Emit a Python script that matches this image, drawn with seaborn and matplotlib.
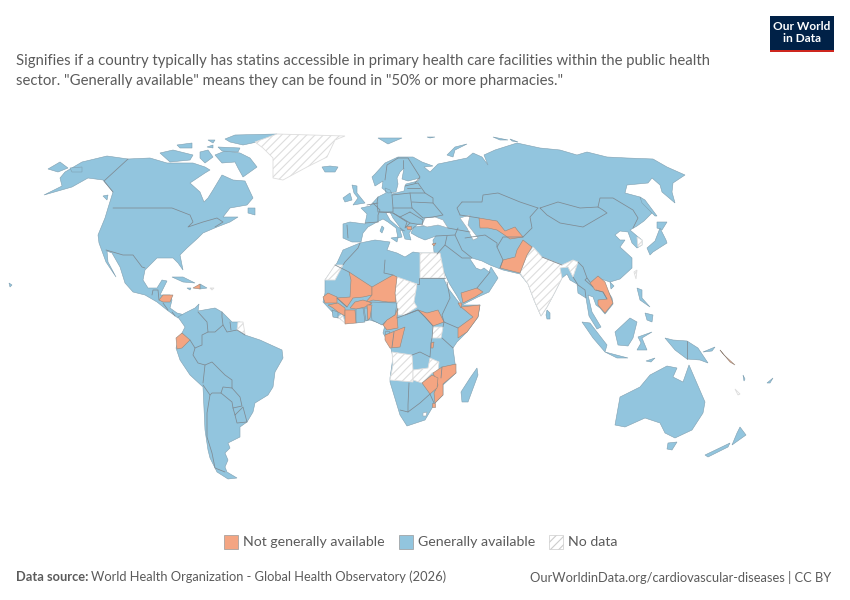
import pandas as pd
import matplotlib
matplotlib.use("Agg")
import matplotlib.pyplot as plt
from matplotlib.patches import Rectangle
import seaborn as sns

# ---- map outlines (x, y on the 850x600 sheet) ----
americas_north = [(44,195),(62,186),(60,178),(65,172),(82,162),(107,156),(128,159),(150,158),(167,163),(193,163),(205,167),(210,170),(205,173),(190,183),(200,192),(204,202),(208,198),(213,190),(222,175),(233,180),(245,181),(253,198),(247,205),(230,208),(223,217),(238,217),(230,222),(217,227),(203,233),(198,238),(187,248),(180,255),(183,270),(178,263),(173,258),(157,258),(145,270),(143,280),(148,288),(157,288),(162,280),(167,281),(160,295),(170,295),(172,300),(170,308),(177,313),(185,315),(178,318),(167,310),(157,302),(145,295),(133,292),(125,283),(120,267),(112,253),(107,251),(108,262),(116,277),(106,262),(99,243),(98,235),(105,218),(108,208),(113,192),(103,180),(88,178),(72,187)]
south_america = [(178,317),(185,313),(195,308),(199,304),(198,311),(215,308),(222,312),(232,322),(240,322),(245,335),(260,340),(282,350),(283,358),(275,372),(273,387),(268,395),(255,403),(253,412),(247,422),(240,427),(240,437),(228,443),(230,448),(225,453),(228,460),(225,467),(227,472),(237,478),(228,479),(217,472),(210,458),(208,450),(205,430),(203,387),(190,375),(180,360),(176,348),(180,337),(185,327)]
ellesmere = [(225,139),(235,135),(277,134),(257,142),(243,145),(230,142)]
baffin = [(215,155),(225,151),(240,153),(250,158),(257,167),(243,177),(238,168),(235,162),(222,163)]
victoria = [(160,153),(173,150),(193,155),(190,160),(170,162)]
banks = [(177,145),(192,143),(192,148),(180,148)]
devon = [(207,147),(213,145),(213,148)]
bathurst = [(218,147),(240,148),(238,152),(222,151)]
somerset = [(200,152),(208,150),(213,157),(205,163),(200,158)]
axel = [(208,140),(215,140),(213,143)]
newfoundland = [(248,208),(255,208),(255,215),(248,213)]
chukotka_tip = [(48,169),(60,162),(68,168),(58,172)]
kodiak = [(70,168),(82,167),(82,172),(72,172)]
vancouver = [(103,196),(108,195),(107,200)]
cuba = [(172,277),(183,277),(195,283),(183,282)]
dominican = [(200,284),(207,288),(200,289)]
jamaica = [(187,288),(191,288),(190,290)]
hawaii = [(9,283),(12,285),(10,287)]
eurasia = [(343,238),(343,224),(350,222),(365,224),(367,214),(361,208),(370,206),(378,197),(386,193),(385,188),(390,190),(392,194),(404,191),(405,186),(406,184),(418,181),(420,178),(408,181),(402,179),(404,168),(400,172),(397,178),(398,184),(396,192),(388,193),(382,188),(383,181),(375,186),(372,177),(375,174),(385,163),(398,157),(413,157),(422,162),(433,166),(424,167),(430,172),(438,164),(443,163),(467,158),(473,153),(482,157),(488,165),(484,155),(495,150),(517,143),(540,148),(560,150),(577,155),(587,152),(607,157),(627,158),(653,159),(667,167),(685,175),(673,183),(672,192),(675,203),(662,192),(660,185),(652,178),(648,183),(627,185),(625,193),(640,197),(652,213),(644,221),(637,226),(630,230),(637,236),(642,240),(642,245),(637,248),(632,243),(628,232),(620,231),(615,235),(620,240),(625,240),(620,247),(632,258),(632,268),(620,279),(610,282),(598,278),(604,285),(612,298),(613,304),(605,314),(600,308),(596,305),(593,297),(588,295),(592,312),(601,327),(597,329),(589,316),(586,298),(578,293),(577,284),(570,280),(567,274),(562,278),(555,292),(547,307),(541,316),(534,300),(528,284),(520,274),(503,270),(490,265),(482,261),(472,258),(470,259),(476,268),(481,270),(484,268),(489,272),(491,267),(498,278),(489,292),(478,297),(462,305),(457,296),(449,283),(441,265),(437,254),(434,252),(433,240),(436,236),(425,240),(418,237),(411,233),(414,227),(424,226),(425,224),(418,224),(412,229),(409,233),(411,240),(405,239),(402,230),(393,218),(390,212),(386,213),(390,220),(398,227),(405,231),(400,230),(402,237),(398,238),(396,228),(388,222),(383,219),(377,222),(368,227),(363,233),(361,242),(352,242)]
africa = [(360,243),(375,240),(390,242),(387,250),(397,253),(405,257),(413,252),(420,253),(440,253),(438,260),(443,277),(448,288),(457,300),(461,305),(480,305),(478,317),(467,332),(457,342),(453,348),(455,363),(456,373),(443,385),(443,395),(435,403),(425,420),(407,426),(400,415),(390,382),(390,378),(393,357),(390,345),(383,333),(385,325),(370,320),(347,323),(337,317),(323,302),(325,293),(325,280),(337,263),(343,250)]
madagascar = [(477,368),(478,375),(468,402),(462,402),(461,392),(470,378)]
britain = [(352,185),(357,186),(357,193),(365,203),(353,205),(358,198),(354,193)]
ireland = [(343,198),(350,193),(352,200),(345,202)]
iceland = [(322,167),(330,166),(338,167),(335,172),(325,172)]
svalbard = [(378,138),(402,138),(388,144)]
novaya_zemlya = [(447,155),(455,147),(467,144),(455,150),(453,157)]
severnaya = [(493,137),(508,140),(500,140)]
new_siberian = [(510,139),(518,142),(512,141)]
franz_josef = [(427,137),(435,137),(430,138)]
sardinia = [(382,226),(384,228),(382,233),(380,231)]
sicily = [(391,238),(398,237),(397,242)]
sri_lanka = [(547,310),(550,313),(550,319),(547,319),(546,315)]
hokkaido = [(657,222),(667,222),(662,230),(657,228)]
honshu = [(647,248),(655,241),(660,228),(666,240),(667,243),(653,252),(650,255)]
sakhalin = [(640,197),(645,200),(657,216),(655,216),(642,203)]
sumatra = [(582,322),(590,323),(607,345),(605,352),(593,338)]
java = [(605,352),(628,358),(617,358)]
borneo = [(615,332),(630,318),(637,322),(633,338),(628,346),(618,345)]
sulawesi = [(638,337),(652,332),(642,338),(647,350),(637,350),(641,343)]
new_guinea = [(665,338),(673,340),(687,341),(698,348),(708,363),(700,360),(687,359),(675,350)]
new_britain = [(703,352),(715,347),(712,351)]
luzon = [(637,288),(642,290),(642,298),(650,307),(640,300)]
mindanao = [(645,313),(653,315),(652,322),(647,320)]
timor = [(646,361),(655,358),(651,362)]
hainan = [(610,282),(614,286),(611,289)]
australia = [(615,425),(620,397),(640,387),(650,375),(667,366),(677,368),(673,377),(683,382),(689,365),(705,402),(703,413),(692,430),(675,438),(665,433),(660,423),(645,418),(625,427)]
tasmania = [(668,443),(677,442),(672,450),(667,449)]
nz_north = [(740,427),(746,435),(732,445),(737,433)]
nz_south = [(730,443),(728,447),(708,457),(705,455)]
vanuatu = [(743,375),(745,379),(744,381)]
fiji = [(767,383),(773,378),(770,383)]

nigeria = [(370,302),(397,303),(395,315),(385,322),(382,325),(372,320)]
ghana = [(356,308),(363,308),(365,322),(356,323)]
togo = [(364,308),(368,308),(368,320),(366,321)]
sierra_leone = [(332,310),(338,312),(338,318),(333,317)]
gambia = [(325,300),(337,299),(336,302),(326,302)]
eq_guinea = [(385,331),(389,331),(389,334),(385,334)]

senegal = [(323,297),(328,293),(337,297),(337,303),(325,303)]
mali = [(349,272),(372,287),(372,295),(363,297),(353,298),(347,307),(337,298),(350,297),(351,280)]
niger = [(372,287),(393,275),(397,277),(395,293),(396,302),(388,302),(373,300),(365,303),(372,295)]
burkina = [(350,308),(355,302),(363,300),(372,303),(365,307),(356,309)]
guinea = [(328,305),(338,303),(345,308),(345,316),(338,312),(333,308)]
ivory_coast = [(345,310),(355,310),(356,323),(345,324)]
benin = [(367,305),(372,305),(370,318),(368,320)]
cameroon = [(398,308),(397,317),(398,328),(387,330),(383,325),(387,320),(395,315)]
congo_gabon = [(385,335),(405,327),(403,335),(400,347),(390,348),(385,340)]
south_sudan = [(418,310),(427,313),(438,310),(444,322),(433,326),(425,317)]
rwanda = [(431,343),(434,342),(433,348),(431,348)]
yemen = [(461,293),(477,288),(483,292),(475,297),(463,303)]
djibouti = [(458,303),(462,303),(461,308)]
somalia = [(458,338),(458,328),(473,317),(461,307),(480,305),(478,317),(467,332)]
mozambique = [(442,367),(456,364),(456,373),(443,384),(443,395),(435,403),(434,393),(438,385),(433,373)]
zimbabwe = [(422,383),(432,375),(438,378),(437,388),(430,394)]
eswatini = [(432,403),(435,403),(435,407),(432,407)]
uzbekistan = [(479,218),(485,219),(497,221),(505,231),(515,227),(518,231),(523,237),(510,239),(503,234),(497,230),(488,228),(480,228)]
pakistan = [(517,250),(523,240),(532,247),(527,255),(520,273),(500,268),(503,260),(515,257)]
indochina = [(590,283),(598,276),(605,282),(613,303),(605,313),(598,305),(598,300),(607,299),(603,292),(595,290)]
honduras = [(159,300),(163,295),(173,295),(170,302),(163,302)]
haiti = [(193,288),(200,284),(200,289)]
ecuador = [(176,338),(182,333),(190,340),(182,348),(177,349)]
n_macedonia = [(406,226),(411,226),(411,229),(407,229)]
cyprus = [(432,244),(436,243),(434,246)]
solomons = [(720,350),(724,355),(735,365),(730,362)]

greenland = [(255,142),(277,134),(345,136),(335,140),(327,157),(307,167),(283,180),(273,178),(273,158),(263,148)]
west_sahara = [(335,265),(343,265),(335,280),(325,280)]
egypt = [(420,253),(440,253),(445,278),(420,278)]
chad = [(397,277),(417,284),(414,302),(417,307),(405,315),(398,315),(397,305),(395,293)]
uganda = [(433,327),(443,327),(441,338),(432,338)]
angola = [(392,352),(412,355),(413,370),(413,382),(390,380),(393,365)]
zambia = [(413,370),(428,368),(430,358),(439,362),(438,372),(432,373),(422,383),(413,380)]
liberia = [(338,317),(342,314),(346,324)]
india = [(533,247),(542,257),(562,265),(573,260),(578,262),(573,277),(568,267),(560,268),(562,278),(555,292),(547,307),(541,316),(534,300),(528,284),(520,273),(527,255)]
south_korea = [(637,237),(642,240),(642,245),(638,247)]
taiwan = [(634,272),(637,270),(636,279)]
french_guiana = [(238,322),(243,322),(245,334),(237,330)]
new_caledonia = [(735,389),(740,394),(738,395)]
dominica_etc = [(210,288),(214,288),(212,290)]

black_sea = [(422,225),(425,218),(435,217),(443,220),(448,228),(438,225),(427,227)]
caspian = [(460,218),(470,215),(468,225),(478,238),(473,240),(467,228)]
lesotho = [(423,413),(427,412),(426,416),(423,416)]

# ---- land borders ----
borders = {
    "ak": [(128,159),(104,181),(113,192)],
    "us_ca": [(113,208),(172,208),(190,215),(193,222),(188,227),(203,222),(217,218),(223,222),(215,227)],
    "us_mx": [(106,250),(123,255),(133,255),(142,267),(145,268)],
    "guat": [(152,295),(153,290),(158,290),(159,300)],
    "cam": [(163,303),(168,310)],
    "pan": [(172,312),(175,316)],
    "co_ve": [(198,312),(207,322),(208,332),(202,335),(202,345),(195,348),(190,340)],
    "br_n": [(208,332),(215,332),(223,325),(227,332),(237,330),(245,335)],
    "gy": [(222,312),(222,317),(223,325)],
    "sr": [(230,322),(231,330)],
    "pe_br": [(195,348),(193,355),(198,363),(205,365),(203,383)],
    "bo": [(205,365),(212,362),(225,375),(232,380),(232,388),(223,387),(221,393),(212,393),(210,395),(203,385)],
    "py": [(221,393),(232,402),(233,408),(242,406),(240,397),(232,388)],
    "cl": [(210,395),(207,413),(207,437),(212,453),(215,468),(225,472)],
    "uy": [(235,415),(237,423),(247,422),(243,407),(235,415),(233,408)],
    "iberia": [(347,225),(348,238)],
    "pyr": [(365,223),(378,222)],
    "fr": [(373,203),(380,210),(378,215),(378,222)],
    "de": [(378,197),(377,203),(378,212),(393,212),(393,208),(392,195)],
    "pl": [(392,195),(410,193),(412,208),(393,208)],
    "ua": [(412,202),(433,203),(443,215),(433,217),(423,218),(412,208)],
    "ro": [(410,212),(423,220),(422,225),(410,223),(400,217),(410,212)],
    "baltic": [(405,186),(418,183),(425,193),(410,193)],
    "baltic_mid": [(407,188),(420,188)],
    "belarus": [(425,193),(433,198),(433,203)],
    "balkan": [(393,213),(407,222),(405,228),(410,223)],
    "alps": [(380,212),(393,213),(400,217)],
    "benelux": [(367,205),(378,203)],
    "no_se": [(385,180),(387,165),(398,158)],
    "se_fi": [(403,160),(403,168)],
    "fi": [(398,158),(408,158),(420,177),(415,183)],
    "caucasus": [(448,228),(470,232)],
    "tr": [(436,236),(455,235),(458,228)],
    "ir_iq": [(455,235),(462,250),(472,258)],
    "sy": [(447,236),(445,245),(437,254)],
    "sa": [(445,245),(462,258),(470,258)],
    "om": [(477,288),(490,272)],
    "iran": [(465,238),(485,235),(497,243),(497,247),(503,260),(500,268)],
    "af": [(497,247),(503,237),(523,237)],
    "kz_ru": [(462,202),(482,202),(483,195),(498,193),(520,202),(538,208)],
    "kz": [(460,215),(479,218)],
    "kz_cn": [(538,208),(530,217),(532,228),(523,237)],
    "kz_w": [(462,202),(457,208),(460,215)],
    "mongolia": [(540,208),(558,202),(580,208),(598,207),(603,210),(607,213),(595,220),(583,227),(560,223),(547,215),(540,208)],
    "ru_cn": [(598,207),(600,198),(613,198),(633,210),(638,218),(633,228)],
    "nepal": [(542,257),(562,265)],
    "cn_s": [(578,262),(583,267),(587,278),(590,282)],
    "burma": [(573,277),(578,285),(585,290),(586,298)],
    "thai": [(593,287),(585,280),(587,278)],
    "laos": [(596,290),(603,292),(607,299)],
    "png": [(687,341),(687,359)],
    "ma": [(360,243),(358,248),(345,262),(343,265)],
    "dz_ly": [(385,260),(384,273),(393,275)],
    "dz_w": [(349,272),(335,265)],
    "eg_su": [(419,278),(419,284),(417,284)],
    "su": [(420,278),(445,278)],
    "su_e": [(447,282),(450,298),(442,315),(444,322),(458,328)],
    "ke": [(442,338),(453,348)],
    "ke_n": [(444,322),(443,327)],
    "drc": [(397,318),(418,310),(425,317),(433,326),(432,338),(431,343),(430,357),(420,352),(412,355)],
    "car": [(405,315),(418,310)],
    "malawi": [(442,367),(441,378)],
    "na": [(409,383),(408,405),(408,412),(400,410)],
    "za": [(408,412),(420,403),(430,394),(434,403)],
    "congo_mid": [(394,332),(392,347)],
    "guinea_mali": [(337,298),(347,307)],
}

# statuses: which outline gets which look
generally = [americas_north, south_america, ellesmere, baffin, victoria, banks, devon, bathurst, somerset,
             axel, newfoundland, chukotka_tip, kodiak, vancouver, cuba, dominican, jamaica, hawaii, eurasia,
             africa, madagascar, britain, ireland, iceland, svalbard, novaya_zemlya, severnaya, new_siberian,
             franz_josef, sardinia, sicily, sri_lanka, hokkaido, honshu, sakhalin, sumatra, java, borneo,
             sulawesi, new_guinea, new_britain, luzon, mindanao, timor, hainan, australia, tasmania,
             nz_north, nz_south, vanuatu, fiji]
not_generally = [senegal, mali, niger, burkina, guinea, ivory_coast, benin, cameroon, congo_gabon,
                 south_sudan, rwanda, yemen, djibouti, somalia, mozambique, zimbabwe, eswatini,
                 uzbekistan, pakistan, indochina, honduras, haiti, ecuador, n_macedonia, cyprus, solomons]
no_data = [greenland, west_sahara, egypt, chad, uganda, angola, zambia, liberia, india, south_korea,
           taiwan, french_guiana, new_caledonia, dominica_etc]
on_top_blue = [nigeria, ghana, togo, sierra_leone, gambia, eq_guinea]
water = [black_sea, caspian, lesotho]

legend_labels = ["Not generally available", "Generally available", "No data"]
title_lines = ['Signifies if a country typically has statins accessible in primary health care facilities within the public health',
               'sector. "Generally available" means they can be found in "50% or more pharmacies."']
source_bold = "Data source:"
source_text = "World Health Organization - Global Health Observatory (2026)"
site_text = "OurWorldinData.org/cardiovascular-diseases | CC BY"

BLUE = "#92c5de"
ORANGE = "#f4a582"
GREY_TEXT = "#5b5b5b"

sns.set_theme(style="white")
plt.rcParams["font.family"] = ["Lato", "DejaVu Sans"]
plt.rcParams["hatch.linewidth"] = 0.8
plt.rcParams["hatch.color"] = "#e2e2e2"

fig = plt.figure(figsize=(8.5, 6), dpi=100)
ax = fig.add_axes([0, 0, 1, 1])

for shape in generally:
    ax.fill(*zip(*shape), facecolor=BLUE, edgecolor="#7f9fb0", linewidth=0.4, zorder=1)
for shape in water:
    ax.fill(*zip(*shape), facecolor="white", edgecolor="#9aa8b0", linewidth=0.4, zorder=2)
for shape in no_data:
    ax.fill(*zip(*shape), facecolor="white", edgecolor="#dddddd", hatch="////", linewidth=0.6, zorder=2)
for shape in on_top_blue:
    ax.fill(*zip(*shape), facecolor=BLUE, edgecolor="#7f8f98", linewidth=0.4, zorder=3)
for shape in not_generally:
    ax.fill(*zip(*shape), facecolor=ORANGE, edgecolor="#94877c", linewidth=0.4, zorder=3)

# borders go through seaborn, one unit per line
rows = [{"name": k, "order": i, "x": p[0], "y": p[1]} for k, pts in borders.items() for i, p in enumerate(pts)]
border_df = pd.DataFrame(rows)
sns.lineplot(data=border_df, x="x", y="y", units="name", estimator=None, sort=False,
             color="#7f8a92", linewidth=0.55, legend=False, ax=ax, zorder=4)

ax.set_xlim(0, 850)
ax.set_ylim(600, 0)
ax.axis("off")

# title
ax.text(16, 61.5, title_lines[0], fontsize=10.73, color=GREY_TEXT, va="center")
ax.text(16, 80.5, title_lines[1], fontsize=10.73, color=GREY_TEXT, va="center")

# logo
ax.add_patch(Rectangle((770, 16), 64, 36, facecolor="#002147", edgecolor="none", zorder=5))
ax.add_patch(Rectangle((770, 50), 64, 2, facecolor="#ce261e", edgecolor="none", zorder=6))
ax.text(802, 27, "Our World", color="white", fontsize=8.6, fontweight="bold", ha="center", va="center", zorder=7)
ax.text(802, 39, "in Data", color="white", fontsize=8.6, fontweight="bold", ha="center", va="center", zorder=7)

# legend
ax.add_patch(Rectangle((224.5, 534.5), 14, 14, facecolor=ORANGE, edgecolor="#999999", linewidth=0.5))
ax.add_patch(Rectangle((399.5, 534.5), 14, 14, facecolor=BLUE, edgecolor="#999999", linewidth=0.5))
ax.add_patch(Rectangle((549.5, 534.5), 14, 14, facecolor="white", edgecolor="#cccccc", hatch="////", linewidth=0.5))
for x, label in zip([243, 418, 568], legend_labels):
    ax.text(x, 542, label, fontsize=10.2, color=GREY_TEXT, va="center")

# footer
ax.text(16, 577, source_bold, fontsize=9.26, fontweight="bold", color=GREY_TEXT, va="center")
ax.text(91, 577, source_text, fontsize=9.26, color=GREY_TEXT, va="center")
ax.text(831, 577, site_text, fontsize=9.26, color=GREY_TEXT, va="center", ha="right")

fig.savefig("out.png", dpi=100)
